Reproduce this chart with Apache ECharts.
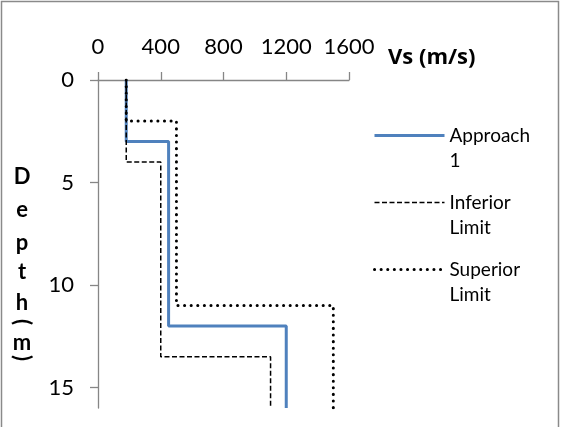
<!DOCTYPE html>
<html>
<head>
<meta charset="utf-8">
<script src="https://cdn.jsdelivr.net/npm/echarts@6/dist/echarts.min.js"></script>
<style>
html,body{margin:0;padding:0;background:#fff;}
#chart{width:561px;height:427px;}
</style>
</head>
<body>
<div id="chart"></div>
<script>
// ---- data ----
const seriesNames = ['Approach\n1', 'Inferior\nLimit', 'Superior\nLimit'];
const approachVs = [180, 450, 1200];
const approachDepth = [0, 3, 12, 16];
const inferiorVs = [180, 400, 1100];
const inferiorDepth = [0, 4, 13.5, 16];
const superiorVs = [180, 500, 1500];
const superiorDepth = [0, 2, 11, 16];
const xTickValues = [0, 400, 800, 1200, 1600];
const yTickValues = [0, 5, 10, 15];
const xAxisTitle = 'Vs (m/s)';
const yAxisTitleChars = ['D', 'e', 'p', 't', 'h', '(', 'm', ')'];

function stepProfile(vs, depth) {
  const pts = [];
  for (let i = 0; i < vs.length; i++) {
    pts.push([vs[i], depth[i]]);
    pts.push([vs[i], depth[i + 1]]);
  }
  return pts;
}

const chart = echarts.init(document.getElementById('chart'));
const FONT = 'Lato';
const axisGray = '#868686';

const lineStyles = [
  { color: '#4F81BD', width: 3 },
  { color: '#000', width: 1.5, type: [5, 2.5] },
  { color: '#000', width: 3, type: [0.1, 6.5], cap: 'round' }
];

// y-title glyph layout
const yTitleY = [177, 210, 243, 272, 303, 322, 343, 358];
const yTitleChildren = yAxisTitleChars.map((c, i) => {
  const isParen = (c === '(' || c === ')');
  return {
    type: 'text',
    x: 22, y: yTitleY[i],
    rotation: isParen ? -Math.PI / 2 : 0,
    style: {
      text: c, fill: '#000', font: 'bold 22px ' + FONT,
      align: 'center', verticalAlign: 'middle'
    }
  };
});

const series = [
  [approachVs, approachDepth],
  [inferiorVs, inferiorDepth],
  [superiorVs, superiorDepth]
].map((d, i) => ({
  name: seriesNames[i], type: 'line', symbol: 'none',
  data: stepProfile(d[0], d[1]),
  lineStyle: lineStyles[i], itemStyle: { color: lineStyles[i].color }
}));

const option = {
  animation: false,
  backgroundColor: '#fff',
  textStyle: { fontFamily: FONT },
  grid: { left: 98, top: 80, right: 212, bottom: 19, containLabel: false },
  xAxis: {
    type: 'value', position: 'top',
    min: 0, max: 1600, interval: 400,
    axisLine: { show: true, onZero: false, lineStyle: { color: axisGray, width: 1.3 } },
    axisTick: { show: true, length: 8, inside: false, customValues: xTickValues, lineStyle: { color: axisGray, width: 1.3 } },
    axisLabel: { customValues: xTickValues, color: '#000', fontSize: 22, fontFamily: FONT, margin: 22, formatter: v => String(v) },
    splitLine: { show: false }
  },
  yAxis: {
    type: 'value', inverse: true,
    min: 0, max: 16, interval: 5,
    axisLine: { show: true, onZero: false, lineStyle: { color: axisGray, width: 1.3 } },
    axisTick: { show: true, length: 8, inside: false, customValues: yTickValues, lineStyle: { color: axisGray, width: 1.3 } },
    axisLabel: { customValues: yTickValues, color: '#000', fontSize: 22, fontFamily: FONT, margin: 24, formatter: v => String(v) },
    splitLine: { show: false }
  },
  legend: {
    orient: 'vertical', left: 373, top: 98, padding: 0,
    itemWidth: 70, itemHeight: 10, itemGap: -8,
    data: seriesNames.map((n, i) => ({ name: n, lineStyle: Object.assign({}, lineStyles[i]) })),
    formatter: name => '\n' + name,
    itemStyle: { opacity: 0 },
    textStyle: { color: '#000', fontSize: 19, fontFamily: FONT, lineHeight: 25 }
  },
  series: series,
  graphic: [
    { type: 'rect', shape: { x: 1.5, y: 1.5, width: 557, height: 500 }, style: { fill: 'none', stroke: '#8a8a8a', lineWidth: 1.5 }, silent: true },
    { type: 'text', x: 388, y: 58, style: { text: xAxisTitle, fill: '#000', font: 'bold 22px "Open Sans"', align: 'left', verticalAlign: 'middle' } },
    { type: 'group', children: yTitleChildren }
  ]
};
chart.setOption(option);
</script>
</body>
</html>
